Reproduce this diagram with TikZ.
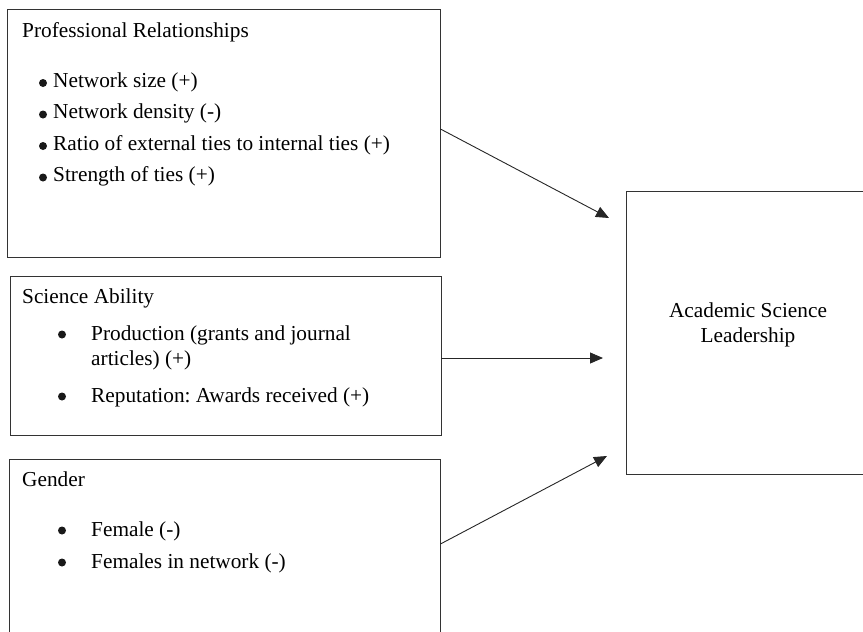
\documentclass[tikz,border=0pt]{standalone}
\usepackage{fontspec}
\setmainfont{Liberation Serif}
\usetikzlibrary{arrows.meta}

\tikzset{
  box/.style={draw=black!80, line width=0.9pt, inner sep=0pt},
  txt/.style={anchor=base west, inner sep=0pt, font=\fontsize{21.3}{25}\selectfont},
  ctr/.style={anchor=base, inner sep=0pt, font=\fontsize{21.3}{25}\selectfont},
  bul/.style={circle, fill=black!90, inner sep=0pt, minimum size=8pt},
  arr/.style={draw=black!85, line width=0.9pt, -{Triangle[length=13pt,width=11pt]}}
}

\begin{document}
\begin{tikzpicture}[x=1pt,y=-1pt]
        \useasboundingbox (0,0) rectangle (863,632);
        \clip (0,0) rectangle (863,632);

        % the four boxes
        \node[box, minimum width=433pt, minimum height=248pt] (prof) at (223.5,133) {};
        \node[box, minimum width=431pt, minimum height=159pt] (sci) at (225.5,355.5) {};
        \node[box, minimum width=431pt, minimum height=181pt] (gender) at (224.5,549.5) {};
        \node[box, minimum width=254pt, minimum height=283pt] (lead) at (753,332.5) {};

        % professional relationships
        \node[txt] (ptitle) at (22,37) {Professional Relationships};
        \node[bul] (pd1) at (43,83) {};
        \node[bul] (pd2) at (43,114.5) {};
        \node[bul] (pd3) at (43,146) {};
        \node[bul] (pd4) at (43,177.5) {};
        \node[txt] (p1) at (53,87) {Network size (+)};
        \node[txt] (p2) at (53,118.5) {Network density (-)};
        \node[txt] (p3) at (53,150) {Ratio of external ties to internal ties (+)};
        \node[txt] (p4) at (53,181.5) {Strength of ties (+)};

        % science ability
        \node[txt] (stitle) at (22,303) {Science Ability};
        \node[bul] (sd1) at (62,334.5) {};
        \node[bul] (sd2) at (62,396.5) {};
        \node[txt] (s1) at (91,340) {Production (grants and journal};
        \node[txt] (s1b) at (91,365) {articles) (+)};
        \node[txt] (s2) at (91,402) {Reputation:\ Awards received (+)};

        % gender
        \node[txt] (gtitle) at (22,486) {Gender};
        \node[bul] (gd1) at (62,530.5) {};
        \node[bul] (gd2) at (62,562.5) {};
        \node[txt] (g1) at (91,536) {Female (-)};
        \node[txt] (g2) at (91,568) {Females in network (-)};

        % leadership
        \node[ctr] (ltop) at (748,317) {Academic Science};
        \node[ctr] (lbot) at (748,342) {Leadership};

        % arrow tips stop short of the box
        \coordinate (e1) at (609,218);
        \coordinate (e2) at (603,358);
        \coordinate (e3) at (607,456);

        \draw[arr] ([yshift=4pt]prof.east) -- (e1);
        \draw[arr] ([yshift=-2.5pt]sci.east) -- (e2);
        \draw[arr] ([yshift=5.5pt]gender.east) -- (e3);
      \end{tikzpicture}
\end{document}
